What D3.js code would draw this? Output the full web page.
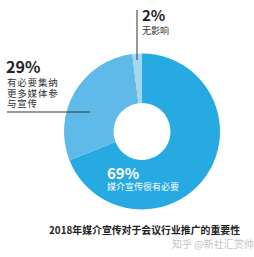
<!DOCTYPE html>
<html><head><meta charset="utf-8">
<script src="https://cdn.jsdelivr.net/npm/d3@7"></script>
<style>body{margin:0;background:#fff}svg{display:block}</style>
</head><body>
<script>
const categories = ["媒介宣传很有必要", "有必要集纳更多媒体参与宣传", "无影响"];
const values = [69, 29, 2];
const percentLabels = ["69%", "29%", "2%"];
const colors = ["#27a9e1", "#5fb9e9", "#a3d6f3"];
const title = "2018年媒介宣传对于会议行业推广的重要性";
const watermark = "知乎 @新社汇赏帅";

const W = 254, H = 257;
const svg = d3.select("body").append("svg").attr("width", W).attr("height", H);
const font = "'Noto Sans CJK SC', 'Noto Sans', sans-serif";
const cx = 142, cy = 131.5, rOuter = 78, rInner = 28.5;

const pie = d3.pie().sort(null).value(d => d)(values);
const arc = d3.arc().innerRadius(rInner).outerRadius(rOuter);
const g = svg.append("g").attr("transform", `translate(${cx},${cy})`);
g.selectAll("path").data(pie).join("path")
  .attr("d", arc).attr("fill", (d, i) => colors[i]);

// leader lines
svg.append("line").attr("x1", 137).attr("x2", 137).attr("y1", 10).attr("y2", 60)
  .attr("stroke", "#333").attr("stroke-width", 1);
svg.append("line").attr("x1", 7).attr("x2", 90).attr("y1", 112).attr("y2", 112)
  .attr("stroke", "#333").attr("stroke-width", 1);

// 2% label
const t2 = svg.append("text").attr("font-family", font).attr("fill", "#222");
t2.append("tspan").attr("x", 142).attr("y", 21).text(percentLabels[2])
  .attr("font-weight", "bold").attr("font-size", 15);
t2.append("tspan").attr("x", 142).attr("y", 34).text(categories[2])
  .attr("font-size", 9).attr("fill", "#333");

// 29% label
const t29 = svg.append("text").attr("font-family", font).attr("fill", "#222");
t29.append("tspan").attr("x", 6).attr("y", 73).text(percentLabels[1])
  .attr("font-weight", "bold").attr("font-size", 16);
const lines29 = ["有必要集纳", "更多媒体参", "与宣传"];
lines29.forEach((t, i) => {
  t29.append("tspan").attr("x", 7).attr("y", 86 + i * 10.5).text(t)
    .attr("font-size", 9.5).attr("letter-spacing", 0.8).attr("fill", "#333");
});

// 69% label
const t69 = svg.append("text").attr("font-family", font).attr("fill", "#fff");
t69.append("tspan").attr("x", 107).attr("y", 179).text(percentLabels[0])
  .attr("font-weight", "bold").attr("font-size", 15);
t69.append("tspan").attr("x", 107).attr("y", 190).text(categories[0])
  .attr("font-size", 9);

// title
svg.append("text").attr("x", 49).attr("y", 234).text(title)
  .attr("font-family", font).attr("font-weight", "bold").attr("font-size", 10).attr("fill", "#222")
  .attr("textLength", 191).attr("lengthAdjust", "spacingAndGlyphs");

// watermark
svg.append("text").attr("x", 172).attr("y", 248).text(watermark)
  .attr("font-family", font).attr("font-size", 10).attr("fill", "#c4c4c4");
</script>
</body></html>
